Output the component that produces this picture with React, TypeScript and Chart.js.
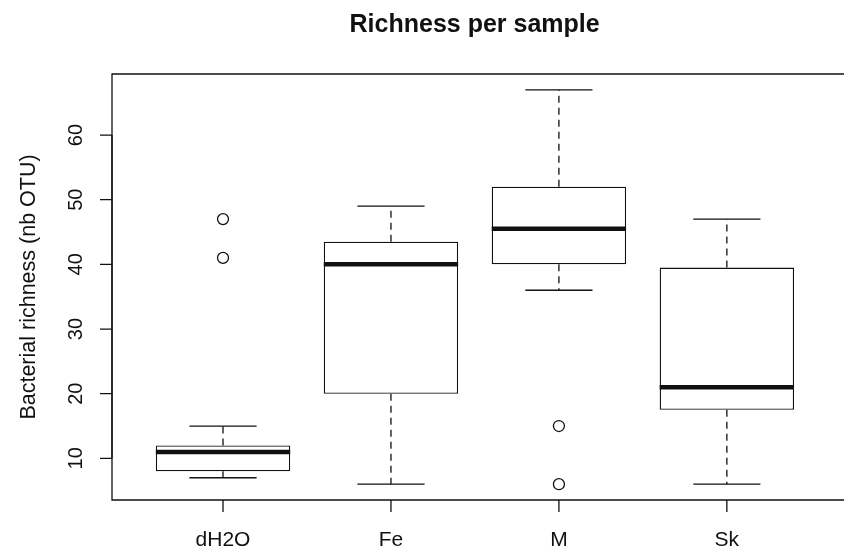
import React, { useEffect, useRef } from "react";
import { Chart, registerables } from "chart.js";

Chart.register(...registerables);

const categories = ["dH2O", "Fe", "M", "Sk"];
const whiskerLow = [7, 6, 36, 6];
const q1 = [8, 20, 40, 17.5];
const median = [11, 40, 45.5, 21];
const q3 = [12, 43.5, 52, 39.5];
const whiskerHigh = [15, 49, 67, 47];
const outliers = [[41, 47], [], [15, 6], []];
const yTicks = [10, 20, 30, 40, 50, 60];

const titleText = "Richness per sample";
const yLabel = "Bacterial richness (nb OTU)";

const FONT = "'Liberation Sans', Arial, Helvetica, sans-serif";
const INK = "#111";

const rBoxPlugin = {
  id: "rBox",
  afterDatasetsDraw(chart: any) {
    const ctx = chart.ctx;
    const xs = chart.scales.x;
    const ys = chart.scales.y;
    const unit = xs.getPixelForValue(2) - xs.getPixelForValue(1);
    ctx.save();
    categories.forEach((_, i) => {
      const cx = xs.getPixelForValue(i + 1);
      const half = unit * 0.4;
      const capHalf = unit * 0.2;
      ctx.strokeStyle = INK;
      ctx.lineWidth = 1.3;
      ctx.setLineDash([7, 5]);
      ctx.beginPath();
      ctx.moveTo(cx, ys.getPixelForValue(q3[i]));
      ctx.lineTo(cx, ys.getPixelForValue(whiskerHigh[i]));
      ctx.moveTo(cx, ys.getPixelForValue(q1[i]));
      ctx.lineTo(cx, ys.getPixelForValue(whiskerLow[i]));
      ctx.stroke();
      ctx.setLineDash([]);
      ctx.beginPath();
      const yh = ys.getPixelForValue(whiskerHigh[i]);
      const yl = ys.getPixelForValue(whiskerLow[i]);
      ctx.moveTo(cx - capHalf, yh);
      ctx.lineTo(cx + capHalf, yh);
      ctx.moveTo(cx - capHalf, yl);
      ctx.lineTo(cx + capHalf, yl);
      ctx.stroke();
      ctx.lineWidth = 4.5;
      ctx.beginPath();
      const ym = ys.getPixelForValue(median[i]);
      ctx.moveTo(cx - half, ym);
      ctx.lineTo(cx + half, ym);
      ctx.stroke();
    });
    ctx.restore();
  },
  afterDraw(chart: any) {
    const ctx = chart.ctx;
    const xs = chart.scales.x;
    const ys = chart.scales.y;
    const a = chart.chartArea;
    ctx.save();
    ctx.strokeStyle = INK;
    ctx.fillStyle = INK;
    ctx.lineWidth = 1.3;
    ctx.beginPath();
    ctx.moveTo(chart.width + 5, a.top);
    ctx.lineTo(a.left, a.top);
    ctx.lineTo(a.left, a.bottom);
    ctx.lineTo(chart.width + 5, a.bottom);
    ctx.stroke();
    ctx.beginPath();
    categories.forEach((_, i) => {
      const cx = xs.getPixelForValue(i + 1);
      ctx.moveTo(cx, a.bottom);
      ctx.lineTo(cx, a.bottom + 12);
    });
    ctx.stroke();
    ctx.font = `21px ${FONT}`;
    ctx.textAlign = "center";
    ctx.textBaseline = "alphabetic";
    categories.forEach((c, i) => {
      ctx.fillText(c, xs.getPixelForValue(i + 1), a.bottom + 46);
    });
    ctx.beginPath();
    ctx.moveTo(a.left, ys.getPixelForValue(yTicks[0]));
    ctx.lineTo(a.left, ys.getPixelForValue(yTicks[yTicks.length - 1]));
    yTicks.forEach((t) => {
      const y = ys.getPixelForValue(t);
      ctx.moveTo(a.left, y);
      ctx.lineTo(a.left - 12, y);
    });
    ctx.stroke();
    ctx.font = `20px ${FONT}`;
    yTicks.forEach((t) => {
      const y = ys.getPixelForValue(t);
      ctx.save();
      ctx.translate(a.left - 30, y);
      ctx.rotate(-Math.PI / 2);
      ctx.textAlign = "center";
      ctx.textBaseline = "alphabetic";
      ctx.fillText(String(t), 0, 0);
      ctx.restore();
    });
    ctx.font = `21.5px ${FONT}`;
    ctx.save();
    ctx.translate(a.left - 77, (a.top + a.bottom) / 2);
    ctx.rotate(-Math.PI / 2);
    ctx.textAlign = "center";
    ctx.textBaseline = "alphabetic";
    ctx.fillText(yLabel, 0, 0);
    ctx.restore();
    ctx.font = `bold 25px ${FONT}`;
    ctx.textAlign = "center";
    ctx.fillText(titleText, (xs.getPixelForValue(xs.min) + xs.getPixelForValue(xs.max)) / 2, 32);
    ctx.restore();
  },
};

export default function App() {
  const ref = useRef<HTMLCanvasElement | null>(null);
  useEffect(() => {
    if (!ref.current) return;
    const chart = new Chart(ref.current, {
      type: "bar",
      data: {
        datasets: [
          {
            type: "bar",
            data: categories.map((_, i) => ({ x: i + 1, y: [q1[i], q3[i]] })) as any,
            backgroundColor: "#ffffff",
            borderColor: INK,
            borderWidth: 1.3,
            borderSkipped: false,
            barPercentage: 1,
            categoryPercentage: 0.8,
          } as any,
          {
            type: "scatter",
            data: outliers.flatMap((vals, i) => vals.map((v) => ({ x: i + 1, y: v }))),
            pointStyle: "circle",
            pointRadius: 5.5,
            pointBackgroundColor: "rgba(0,0,0,0)",
            pointBorderColor: INK,
            pointBorderWidth: 1.3,
            showLine: false,
          } as any,
        ],
      },
      options: {
        responsive: false,
        animation: false,
        layout: { padding: { left: 112, top: 74, right: 0, bottom: 46 } },
        plugins: { legend: { display: false }, tooltip: { enabled: false }, title: { display: false } },
        scales: {
          x: {
            type: "linear",
            offset: false,
            min: 0.339,
            max: 4.657,
            display: false,
            afterBuildTicks: (scale: any) => {
              scale.ticks = categories.map((_, i) => ({ value: i + 1 }));
            },
          },
          y: {
            type: "linear",
            min: 3.56,
            max: 69.44,
            display: false,
          },
        },
      },
      plugins: [rBoxPlugin],
    });
    return () => chart.destroy();
  }, []);
  return (
    <div style={{ position: "absolute", left: 0, top: 0, width: 844, height: 546, background: "#fff" }}>
      <canvas ref={ref} width={844} height={546} style={{ display: "block" }} />
    </div>
  );
}
